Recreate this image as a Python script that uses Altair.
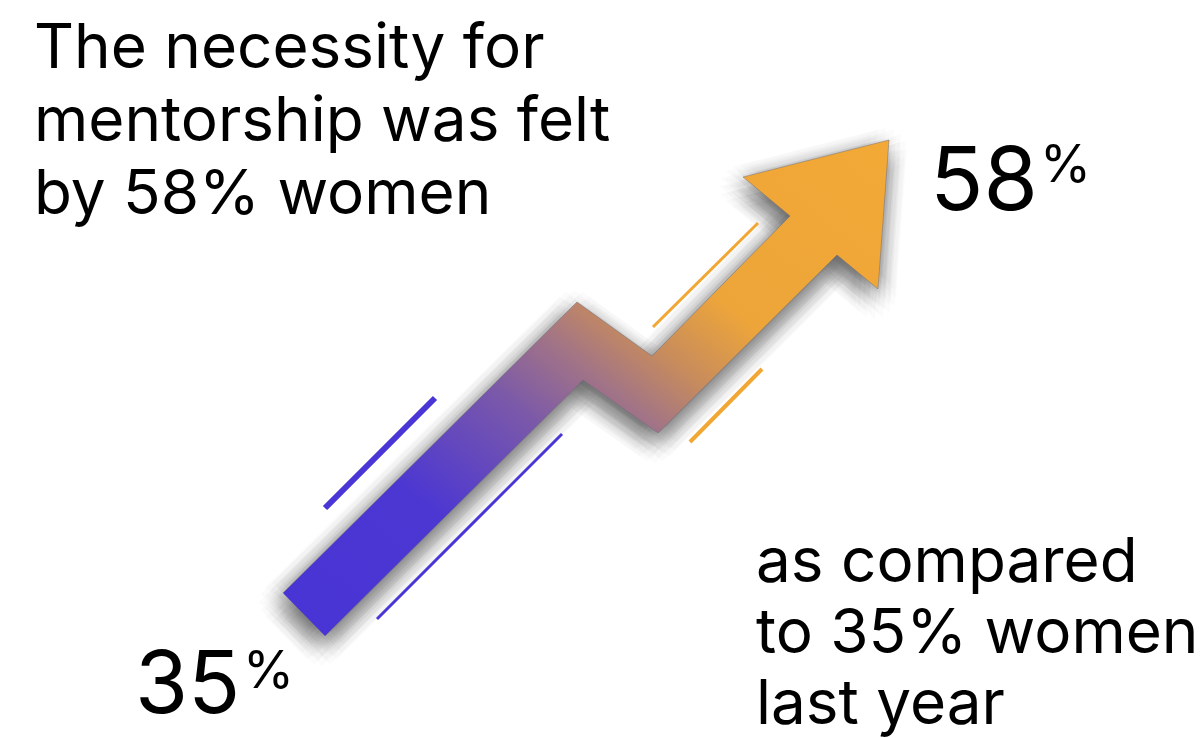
import math
import altair as alt
import pandas as pd

# ---- data ----
arrow_x = [283, 577, 652, 790, 743, 889, 878, 837, 658, 583, 325]
arrow_y = [593, 302, 356, 216, 177, 140, 289, 255, 433, 380, 636]

accent_name = ["blue_thick", "blue_thin", "orange_upper", "orange_lower"]
accent_x1 = [435, 562, 758, 762]
accent_y1 = [398, 434, 223, 369]
accent_x2 = [325, 377, 653, 690]
accent_y2 = [508, 619, 327, 442]

title_lines = ["The necessity for", "mentorship was felt", "by 58% women"]
note_lines = ["as compared", "to 35% women", "last year"]
value_now = "58"
value_before = "35"
pct = "%"

W, H = 1200, 738
FONT = "Inter"

xs = alt.Scale(domain=[0, W], nice=False, zero=False)
ys = alt.Scale(domain=[0, H], nice=False, zero=False, reverse=True)

arrow_df = pd.DataFrame({"i": list(range(len(arrow_x))), "x": arrow_x, "y": arrow_y})
acc_df = pd.DataFrame({"name": accent_name, "x": accent_x1, "y": accent_y1,
                       "x2": accent_x2, "y2": accent_y2})
dummy = pd.DataFrame({"k": [0]})

grad = alt.Gradient(
    gradient="linear",
    stops=[
        alt.GradientStop(color="#4834d5", offset=0),
        alt.GradientStop(color="#4c37d2", offset=0.25),
        alt.GradientStop(color="#7a58aa", offset=0.42),
        alt.GradientStop(color="#a27486", offset=0.52),
        alt.GradientStop(color="#c88c5c", offset=0.6),
        alt.GradientStop(color="#eda53a", offset=0.7),
        alt.GradientStop(color="#f3a935", offset=1),
    ],
    x1=0, y1=1, x2=1, y2=0,
)


def poly(dx=0, dy=0, **mk):
    return (
        alt.Chart(arrow_df)
        .transform_calculate(px=f"datum.x + ({dx})", py=f"datum.y + ({dy})")
        .mark_line(filled=True, **mk)
        .encode(
            x=alt.X("px:Q", scale=xs, axis=None),
            y=alt.Y("py:Q", scale=ys, axis=None),
            order=alt.Order("i:Q"),
        )
    )


layers = []
# soft blurred shadow approximated by rings of faint copies
cx, cy = -3, 9
for r, n in ((21, 16), (16, 14), (11, 12), (6, 10)):
    for k in range(n):
        a = 2 * math.pi * k / n
        layers.append(poly(round(cx + r * math.cos(a), 2), round(cy + r * math.sin(a), 2),
                           color="#000000", opacity=0.014, strokeWidth=0))
layers.append(poly(0, 0, color=grad, stroke="#6a6a7a", strokeWidth=0.8, strokeOpacity=0.6))


def accent(name, color, width):
    return (
        alt.Chart(acc_df)
        .transform_filter(alt.datum.name == name)
        .mark_rule(color=color, strokeWidth=width)
        .encode(
            x=alt.X("x:Q", scale=xs, axis=None),
            y=alt.Y("y:Q", scale=ys, axis=None),
            x2="x2:Q",
            y2="y2:Q",
        )
    )


layers += [
    accent("blue_thick", "#4a35d6", 6),
    accent("blue_thin", "#4a35d6", 3),
    accent("orange_upper", "#f2a735", 3),
    accent("orange_lower", "#f2a735", 4),
]


def txt(text, x, y, size, lh=None):
    kw = dict(text=text, font=FONT, fontSize=size, align="left",
              baseline="alphabetic", color="#000000")
    if lh:
        kw["lineHeight"] = lh
    return alt.Chart(dummy).mark_text(**kw).encode(x=alt.value(x), y=alt.value(y))


layers += [
    txt(title_lines, 34, 68, 62, 73),
    txt(note_lines, 756, 582, 62, 71),
    txt(value_now, 930, 210, 88),
    txt(pct, 1040, 182, 52),
    txt(value_before, 135, 713, 86),
    txt(pct, 243, 688, 52),
]

chart = (
    alt.layer(*layers)
    .properties(width=W, height=H, padding=0, autosize="none", background="white")
    .configure_view(stroke="transparent")
)

chart.save("out.html", embed_options={"renderer": "svg", "actions": False})
